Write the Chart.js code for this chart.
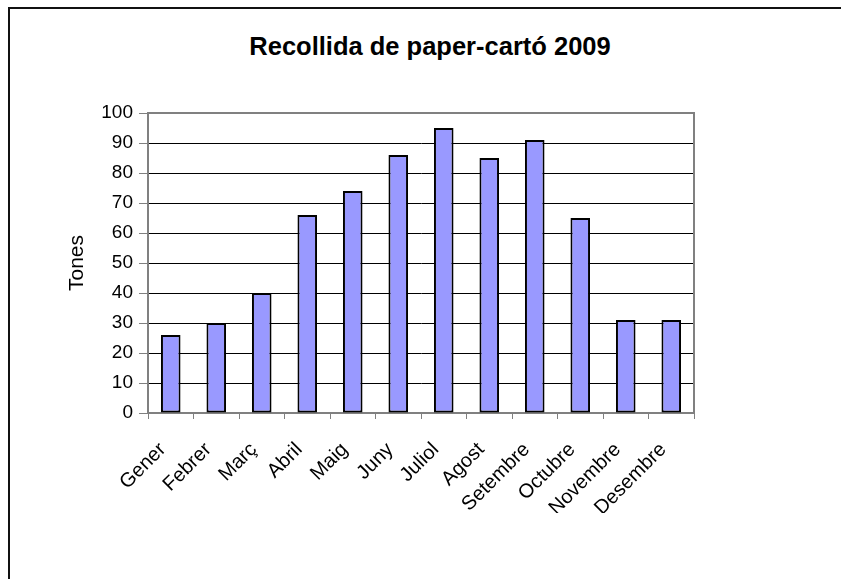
<!DOCTYPE html>
<html>
<head>
<meta charset="utf-8">
<script src="https://cdn.jsdelivr.net/npm/chart.js@4/dist/chart.umd.min.js"></script>
<style>
    body { margin: 0; background: #fff; overflow: hidden; }
    #wrap { position: relative; width: 841px; height: 579px; }
    #frame { position: absolute; left: 8px; top: 7px; width: 900px; height: 700px; border-top: 2px solid #111; border-left: 2px solid #111; }
    #title { position: absolute; left: 8px; width: 844px; top: 32px; line-height: 30px; text-align: center;
             font: bold 25.5px "Liberation Sans", Arial, sans-serif; color: #000; }
    canvas { position: absolute; left: 0; top: 0; }
</style>
</head>
<body>
<div id="wrap">
    <div id="frame"></div>
    <div id="title">Recollida de paper-cartó 2009</div>
    <canvas id="chart" width="841" height="579"></canvas>
</div>
<script>
const months = ['Gener', 'Febrer', 'Març', 'Abril', 'Maig', 'Juny', 'Juliol', 'Agost', 'Setembre', 'Octubre', 'Novembre', 'Desembre'];
const tones = [26, 30, 40, 66, 74, 86, 95, 85, 91, 65, 31, 31];
const yMin = 0;
const yMax = 100;
const yStep = 10;

const fontFamily = '"Liberation Sans", Arial, sans-serif';

// gray frame round the plot area
const plotFrame = {
    id: 'plotFrame',
    beforeDatasetsDraw(chart) {
        const a = chart.chartArea;
        const ctx = chart.ctx;
        ctx.save();
        ctx.strokeStyle = '#808080';
        ctx.lineWidth = 2;
        ctx.strokeRect(a.left, a.top, a.right - a.left, a.bottom - a.top);
        ctx.restore();
    }
};

document.addEventListener('DOMContentLoaded', function() {
    const ctx = document.getElementById('chart').getContext('2d');
    new Chart(ctx, {
        type: 'bar',
        data: {
            labels: months,
            datasets: [{
                label: 'Tones',
                data: tones,
                backgroundColor: '#9999FF',
                borderColor: '#000000',
                borderWidth: 2,
                borderSkipped: false,
                barPercentage: 0.43,
                categoryPercentage: 1
            }]
        },
        options: {
            responsive: false,
            animation: false,
            layout: { padding: { left: 60, right: 147, top: 113, bottom: 66 } },
            plugins: {
                legend: { display: false },
                tooltip: { enabled: false }
            },
            scales: {
                x: {
                    afterFit: scale => { scale.height = 100; },
                    grid: {
                        offset: true,
                        drawOnChartArea: false,
                        tickLength: 6,
                        tickColor: '#808080'
                    },
                    border: { color: '#808080', width: 2 },
                    ticks: {
                        minRotation: 45,
                        maxRotation: 45,
                        padding: 19,
                        labelOffset: -8,
                        color: '#000',
                        font: { family: fontFamily, size: 20 }
                    }
                },
                y: {
                    min: yMin,
                    max: yMax,
                    afterFit: scale => { scale.width = 88; },
                    grid: {
                        color: c => (c.tick && (c.tick.value === yMin || c.tick.value === yMax)) ? '#808080' : '#000000',
                        lineWidth: 1,
                        tickLength: 9,
                        tickColor: '#808080'
                    },
                    border: { color: '#808080', width: 2 },
                    ticks: {
                        stepSize: yStep,
                        padding: 6,
                        color: '#000',
                        font: { family: fontFamily, size: 19 }
                    },
                    title: {
                        display: true,
                        text: 'Tones',
                        color: '#000',
                        padding: { top: 5, bottom: 0 },
                        font: { family: fontFamily, size: 21 }
                    }
                }
            }
        },
        plugins: [plotFrame]
    });
});
</script>
</body>
</html>
